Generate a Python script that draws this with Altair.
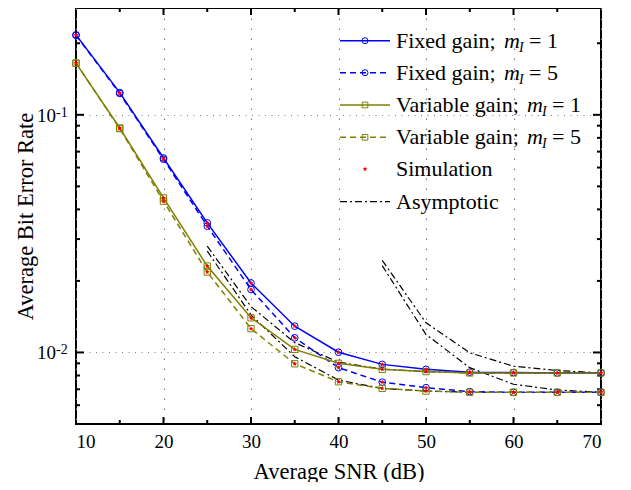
import altair as alt
import pandas as pd

# ---------------- data ----------------
snr = [10, 15, 20, 25, 30, 35, 40, 45, 50, 55, 60, 65, 70]
fixed_m1 = [0.217, 0.124, 0.0658, 0.0351, 0.0196, 0.0129, 0.01002, 0.00891, 0.00849, 0.00826, 0.00823, 0.0082, 0.0082]
fixed_m5 = [0.216, 0.123, 0.0650, 0.0340, 0.0184, 0.01153, 0.00863, 0.0075, 0.00711, 0.00684, 0.0068, 0.0068, 0.0068]
var_m1 = [0.165, 0.088, 0.0447, 0.0231, 0.0140, 0.0103, 0.0090, 0.00849, 0.00831, 0.0082, 0.0082, 0.0082, 0.0082]
var_m5 = [0.165, 0.0875, 0.0433, 0.0218, 0.0126, 0.00896, 0.00753, 0.00706, 0.00688, 0.0068, 0.0068, 0.0068, 0.0068]

snr_asym_var = [25, 30, 35, 40, 45, 50, 55, 60, 65, 70]
asym_var_m1 = [0.028, 0.0156, 0.0110, 0.0091, 0.0085, 0.0083, 0.0082, 0.0082, 0.0082, 0.0082]
asym_var_m5 = [0.0267, 0.0144, 0.0096, 0.00765, 0.00706, 0.00688, 0.0068, 0.0068, 0.0068, 0.0068]

snr_asym_fix = [45, 50, 55, 60, 65, 70]
asym_fix_m1 = [0.0244, 0.01333, 0.00997, 0.00875, 0.0084, 0.0082]
asym_fix_m5 = [0.0232, 0.0119, 0.00863, 0.00735, 0.00695, 0.0068]

x_labels = [10, 20, 30, 40, 50, 60, 70]
x_major = [20, 30, 40, 50, 60]
x_minor = [15, 25, 35, 45, 55, 65]
y_major = [0.01, 0.1]
y_exponent = ["-2", "-1"]
y_minor = [0.006, 0.007, 0.008, 0.009, 0.02, 0.03, 0.04, 0.05, 0.06, 0.07, 0.08, 0.09, 0.2]

legend_prefix = ["Fixed gain;", "Fixed gain;", "Variable gain;", "Variable gain;", "Simulation", "Asymptotic"]
legend_value = ["1", "5", "1", "5", "", ""]

# ---------------- styling ----------------
W, H = 525, 416
FONT = "Liberation Serif"
BLUE = "#0000FF"
OLIVE = "#808000"
STAR = ("M0,-1L0.294,-0.405L0.951,-0.309L0.476,0.155L0.588,0.809L0,0.5"
        "L-0.588,0.809L-0.476,0.155L-0.951,-0.309L-0.294,-0.405Z")

xscale = alt.Scale(domain=[10, 70], nice=False, zero=False)
yscale = alt.Scale(type="log", domain=[0.005, 0.2815], nice=False)

xaxis = alt.Axis(values=x_labels, title="Average SNR (dB)", format="d", grid=True,
                 gridDash=[1.5, 8.5], labelPadding=8, titlePadding=9)
yaxis = alt.Axis(values=y_major, title="Average Bit Error Rate", labels=False, grid=True,
                 gridDash=[1, 5.5], titlePadding=39)


def X():
    return alt.X("x:Q", scale=xscale, axis=xaxis)


def Y():
    return alt.Y("y:Q", scale=yscale, axis=yaxis)


def df_xy(xs, ys):
    return pd.DataFrame({"x": xs, "y": ys})


layers = []

# tick marks (inside the frame)
for vals, ln in ((x_major, 7), (x_minor, 4)):
    d = pd.DataFrame({"x": vals})
    layers.append(alt.Chart(d).mark_rule(color="black", strokeWidth=2).encode(
        x=X(), y=alt.value(H), y2=alt.value(H - ln)))
    layers.append(alt.Chart(d).mark_rule(color="black", strokeWidth=2).encode(
        x=X(), y=alt.value(0), y2=alt.value(ln)))
for vals, ln in ((y_major, 8), (y_minor, 4)):
    d = pd.DataFrame({"y": vals})
    layers.append(alt.Chart(d).mark_rule(color="black", strokeWidth=2).encode(
        y=Y(), x=alt.value(0), x2=alt.value(ln)))
    layers.append(alt.Chart(d).mark_rule(color="black", strokeWidth=2).encode(
        y=Y(), x=alt.value(W), x2=alt.value(W - ln)))

# y tick labels 10^k (base + superscript)
ylab = pd.DataFrame({"y": y_major, "e": y_exponent})
layers.append(alt.Chart(ylab).mark_text(text="10", font=FONT, fontSize=19, align="right",
                                        baseline="alphabetic", color="black", dy=7).encode(
    y=Y(), x=alt.value(-20)))
layers.append(alt.Chart(ylab).mark_text(font=FONT, fontSize=14, align="left",
                                        baseline="alphabetic", color="black", dy=2).encode(
    y=Y(), x=alt.value(-20), text="e:N"))

# asymptotic curves
for xs, ys in ((snr_asym_var, asym_var_m1), (snr_asym_var, asym_var_m5),
               (snr_asym_fix, asym_fix_m1), (snr_asym_fix, asym_fix_m5)):
    layers.append(alt.Chart(df_xy(xs, ys)).mark_line(
        color="black", strokeWidth=1.2, strokeDash=[7, 3, 2, 3]).encode(x=X(), y=Y()))

series = [
    (fixed_m1, BLUE, None, "circle", 45),
    (fixed_m5, BLUE, [6, 4], "circle", 45),
    (var_m1, OLIVE, None, "square", 40),
    (var_m5, OLIVE, [6, 4], "square", 40),
]
for ys, col, dash, shape, sz in series:
    d = df_xy(snr, ys)
    kw = dict(color=col, strokeWidth=1.5)
    if dash:
        kw["strokeDash"] = dash
    layers.append(alt.Chart(d).mark_line(**kw).encode(x=X(), y=Y()))
    layers.append(alt.Chart(d).mark_point(shape=shape, filled=False, color=col, size=sz,
                                          strokeWidth=1, opacity=1).encode(x=X(), y=Y()))
for ys, col, dash, shape, sz in series:
    layers.append(alt.Chart(df_xy(snr, ys)).mark_point(shape=STAR, filled=True, color="red",
                                                       size=22, opacity=1).encode(x=X(), y=Y()))

# ---------------- manual legend ----------------
one = pd.DataFrame({"a": [0]})
row_y = [32.7, 64.7, 97, 129.3, 161, 193.7]
lx0, lx1, lxm, ltx = 264, 314, 289, 320
LF = 22
for i, ry in enumerate(row_y):
    if i < 4:
        ys, col, dash, shape, sz = series[i]
        kw = dict(color=col, strokeWidth=1.5)
        if dash:
            kw["strokeDash"] = dash
        layers.append(alt.Chart(one).mark_rule(**kw).encode(
            x=alt.value(lx0), x2=alt.value(lx1), y=alt.value(ry)))
        layers.append(alt.Chart(one).mark_point(shape=shape, filled=False, color=col, size=sz * 0.8,
                                                strokeWidth=1, opacity=1).encode(
            x=alt.value(lxm), y=alt.value(ry)))
        mx = 428 if i < 2 else 451
        layers.append(alt.Chart(one).mark_text(text="m", font=FONT, fontSize=LF, fontStyle="italic",
                                               align="left", baseline="alphabetic", color="black").encode(
            x=alt.value(mx), y=alt.value(ry + 7)))
        layers.append(alt.Chart(one).mark_text(text="I", font=FONT, fontSize=14, fontStyle="italic",
                                               align="left", baseline="alphabetic", color="black").encode(
            x=alt.value(mx + 15), y=alt.value(ry + 11)))
        layers.append(alt.Chart(one).mark_text(text="= " + legend_value[i], font=FONT, fontSize=LF,
                                               align="left", baseline="alphabetic", color="black").encode(
            x=alt.value(mx + 25), y=alt.value(ry + 7)))
    elif i == 4:
        layers.append(alt.Chart(one).mark_point(shape=STAR, filled=True, color="red", size=22,
                                                opacity=1).encode(x=alt.value(lxm), y=alt.value(ry)))
    else:
        layers.append(alt.Chart(one).mark_rule(color="black", strokeWidth=1.2,
                                               strokeDash=[7, 3, 2, 3]).encode(
            x=alt.value(lx0), x2=alt.value(lx1), y=alt.value(ry)))
    layers.append(alt.Chart(one).mark_text(text=legend_prefix[i], font=FONT, fontSize=LF,
                                           align="left", baseline="alphabetic", color="black").encode(
        x=alt.value(ltx), y=alt.value(ry + 7)))

chart = alt.layer(*layers).properties(
    width=W, height=H,
    autosize=alt.AutoSizeParams(type="none"),
    padding={"left": 68, "right": 22, "top": 0, "bottom": 58},
).configure_view(
    stroke="black", strokeWidth=2
).configure_axis(
    labelFont=FONT, labelFontSize=19, labelColor="black",
    titleFont=FONT, titleFontSize=22.5, titleFontWeight="normal", titleColor="black",
    ticks=False, domain=False, gridColor="#808080", gridWidth=1.2, gridOpacity=1,
)

chart.save("out.html", embed_options={"renderer": "svg", "actions": False})
